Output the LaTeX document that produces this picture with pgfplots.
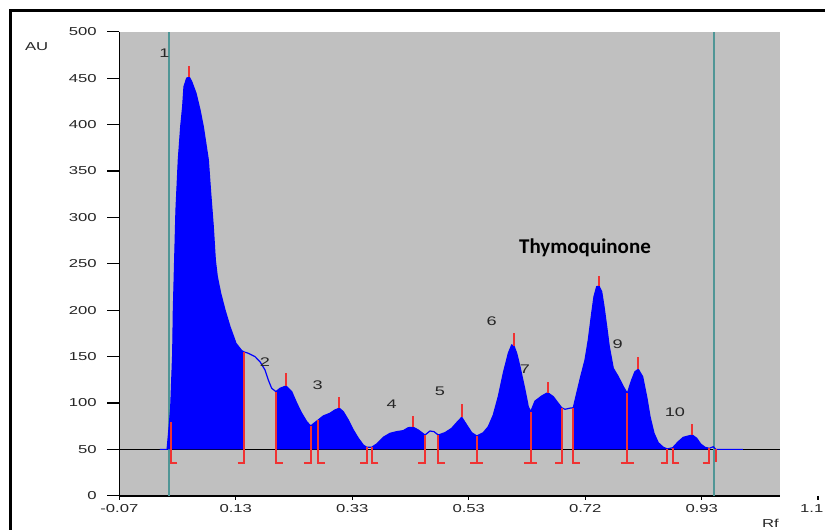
\documentclass[border=0pt]{standalone}
\usepackage{fontspec}
\setmainfont{Liberation Sans}
\newfontfamily\axisfont[FakeStretch=1.45]{Liberation Sans}
\newfontfamily\tqfont{Carlito}
\usepackage{pgfplots}
\pgfplotsset{compat=1.18}
\definecolor{bgray}{RGB}{192,192,192}
\definecolor{pblue}{RGB}{0,0,255}
\definecolor{pred}{RGB}{240,50,50}
\definecolor{pteal}{RGB}{80,150,150}
\begin{document}
\begin{tikzpicture}
\begin{axis}[
  scale only axis, width=660.7pt, height=464.1pt,
  xmin=-0.07, xmax=1.036, ymin=0, ymax=500,
  axis x line*=bottom, axis y line*=left,
  axis line style={-, black, line width=1.5pt},
  axis background/.style={fill=bgray},
  xtick={-0.07,0.125,0.32,0.515,0.71,0.905},
  xticklabels={-0.07,0.13,0.33,0.53,0.72,0.93},
  ytick={0,50,...,500},
  tick align=outside,
  major tick length=12pt,
  xtick style={draw=none},
  ytick style={draw=none},
  tick label style={font=\fontsize{11.5}{13}\axisfont, text=black!85},
  yticklabel style={xshift=-7pt},
  xticklabel style={yshift=7pt},
  /pgf/number format/assume math mode=true,
  clip=false,
  unbounded coords=jump,
]
% baseline
\addplot[black, line width=1.2pt] coordinates {(-0.07,50) (1.036,50)};
% teal limit lines
\addplot[pteal, line width=1.8pt] coordinates {(0.0137,0) (0.0137,500)};
\addplot[pteal, line width=1.8pt] coordinates {(0.9255,0) (0.9255,500)};
% filled segments
\addplot[fill=pblue, draw=none] coordinates {(0.0100,50) (0.0120,64) (0.0160,94) (0.0194,153) (0.0205,200) (0.0249,308) (0.0288,361.9) (0.0328,397.7) (0.0361,419.3) (0.0383,440.8) (0.0428,449.9) (0.0472,451) (0.0512,446.2) (0.0584,433.7) (0.0651,415.7) (0.0706,397.7) (0.0790,361.9) (0.0830,326) (0.0873,290) (0.0907,254.1) (0.0940,236.1) (0.0997,218.2) (0.1069,200.2) (0.1153,182.2) (0.1253,164.3) (0.1349,156.4) (0.1392,154.9) (0.1392,50)} -- cycle;
\addplot[fill=pblue, draw=none] coordinates {(0.1923,50) (0.1923,112.2) (0.1990,115.8) (0.2090,118.3) (0.2186,112.2) (0.2270,99.7) (0.2353,88.9) (0.2437,79.9) (0.2504,75.2) (0.2559,78.1) (0.2631,81.7) (0.2715,86) (0.2827,88.9) (0.2911,92.5) (0.2983,94.3) (0.3050,90.6) (0.3133,81.7) (0.3217,70.9) (0.3301,62) (0.3384,54.7) (0.3441,52.3) (0.3441,50)} -- cycle;
\addplot[fill=pblue, draw=none] coordinates {(0.3525,50) (0.3525,52.3) (0.3609,55.8) (0.3719,63) (0.3831,67.3) (0.3943,69.1) (0.4054,70.2) (0.4138,73.4) (0.4221,73.8) (0.4305,70.9) (0.4417,65.5) (0.4417,50)} -- cycle;
\addplot[fill=pblue, draw=none] coordinates {(0.4640,50) (0.4640,65.5) (0.4752,68) (0.4864,72.7) (0.4948,78.8) (0.5032,84.6) (0.5115,76.3) (0.5199,68) (0.5283,64.4) (0.5393,68) (0.5477,74.5) (0.5561,87.1) (0.5644,106.8) (0.5728,132) (0.5812,153.6) (0.5869,162.5) (0.5907,161.4) (0.5952,153.6) (0.6007,139.1) (0.6091,114) (0.6146,96) (0.6187,90.6) (0.6258,102) (0.6371,107.5) (0.6471,111.1) (0.6565,106.8) (0.6648,99.7) (0.6705,94.9) (0.6705,50)} -- cycle;
\addplot[fill=pblue, draw=none] coordinates {(0.6900,50) (0.6900,94.9) (0.6957,110.4) (0.7024,128.3) (0.7096,146.3) (0.7151,167.9) (0.7208,196.7) (0.7246,214.5) (0.7291,225.3) (0.7330,226) (0.7375,219.9) (0.7414,203.8) (0.7459,182.2) (0.7502,160.7) (0.7569,137.4) (0.7653,128.3) (0.7737,117.6) (0.7804,110.4) (0.7877,124.8) (0.7932,133.7) (0.7988,136.3) (0.8061,128.3) (0.8128,106.8) (0.8184,85.2) (0.8251,67.3) (0.8322,57.2) (0.8406,52.3) (0.8473,50.5) (0.8473,50)} -- cycle;
\addplot[fill=pblue, draw=none] coordinates {(0.8564,50) (0.8564,51.8) (0.8657,58.3) (0.8741,63) (0.8825,64.4) (0.8892,65.5) (0.8965,62) (0.9032,55.8) (0.9104,52.3) (0.9176,51.1) (0.9176,50)} -- cycle;
% densitogram trace
\addplot[pblue, line width=1.2pt] coordinates {(-0.0019,50) (0.0100,50) (0.0120,64) (0.0160,94) (0.0194,153) (0.0205,200) (0.0249,308) (0.0288,361.9) (0.0328,397.7) (0.0361,419.3) (0.0383,440.8) (0.0428,449.9) (0.0472,451) (0.0512,446.2) (0.0584,433.7) (0.0651,415.7) (0.0706,397.7) (0.0790,361.9) (0.0830,326) (0.0873,290) (0.0907,254.1) (0.0940,236.1) (0.0997,218.2) (0.1069,200.2) (0.1153,182.2) (0.1253,164.3) (0.1349,156.4) (0.1392,154.9) (0.1459,153.6) (0.1572,149.9) (0.1655,144.5) (0.1739,135.6) (0.1794,124.8) (0.1851,115.8) (0.1923,112.2) (0.1990,115.8) (0.2090,118.3) (0.2186,112.2) (0.2270,99.7) (0.2353,88.9) (0.2437,79.9) (0.2504,75.2) (0.2559,78.1) (0.2631,81.7) (0.2715,86) (0.2827,88.9) (0.2911,92.5) (0.2983,94.3) (0.3050,90.6) (0.3133,81.7) (0.3217,70.9) (0.3301,62) (0.3384,54.7) (0.3441,52.3) (0.3525,52.3) (0.3609,55.8) (0.3719,63) (0.3831,67.3) (0.3943,69.1) (0.4054,70.2) (0.4138,73.4) (0.4221,73.8) (0.4305,70.9) (0.4417,65.5) (0.4501,69.8) (0.4568,69.1) (0.4640,65.5) (0.4752,68) (0.4864,72.7) (0.4948,78.8) (0.5032,84.6) (0.5115,76.3) (0.5199,68) (0.5283,64.4) (0.5393,68) (0.5477,74.5) (0.5561,87.1) (0.5644,106.8) (0.5728,132) (0.5812,153.6) (0.5869,162.5) (0.5907,161.4) (0.5952,153.6) (0.6007,139.1) (0.6091,114) (0.6146,96) (0.6187,90.6) (0.6258,102) (0.6371,107.5) (0.6471,111.1) (0.6565,106.8) (0.6648,99.7) (0.6705,94.9) (0.6761,93.2) (0.6833,94.3) (0.6900,94.9) (0.6957,110.4) (0.7024,128.3) (0.7096,146.3) (0.7151,167.9) (0.7208,196.7) (0.7246,214.5) (0.7291,225.3) (0.7330,226) (0.7375,219.9) (0.7414,203.8) (0.7459,182.2) (0.7502,160.7) (0.7569,137.4) (0.7653,128.3) (0.7737,117.6) (0.7804,110.4) (0.7877,124.8) (0.7932,133.7) (0.7988,136.3) (0.8061,128.3) (0.8128,106.8) (0.8184,85.2) (0.8251,67.3) (0.8322,57.2) (0.8406,52.3) (0.8473,50.5) (0.8564,51.8) (0.8657,58.3) (0.8741,63) (0.8825,64.4) (0.8892,65.5) (0.8965,62) (0.9032,55.8) (0.9104,52.3) (0.9176,51.1) (0.9243,52.9) (0.9288,50) (0.9740,50)};
% peak boundaries
\addplot[pred, line width=2.2pt] coordinates {
 (0.0270,35.3) (0.0160,35.3) (0.0160,80) (0,nan)
 (0.1282,35.3) (0.1392,35.3) (0.1392,154.9) (0,nan)
 (0.2033,35.3) (0.1923,35.3) (0.1923,112.2) (0,nan)
 (0.2394,35.3) (0.2504,35.3) (0.2504,75.2) (0,nan)
 (0.2741,35.3) (0.2631,35.3) (0.2631,81.7) (0,nan)
 (0.3331,35.3) (0.3441,35.3) (0.3441,52.3) (0,nan)
 (0.3635,35.3) (0.3525,35.3) (0.3525,52.3) (0,nan)
 (0.4307,35.3) (0.4417,35.3) (0.4417,65.5) (0,nan)
 (0.4750,35.3) (0.4640,35.3) (0.4640,65.5) (0,nan)
 (0.5173,35.3) (0.5393,35.3) (0,nan) (0.5283,35.3) (0.5283,64.4) (0,nan)
 (0.6077,35.3) (0.6297,35.3) (0,nan) (0.6187,35.3) (0.6187,90.6) (0,nan)
 (0.6595,35.3) (0.6705,35.3) (0.6705,94.9) (0,nan)
 (0.7010,35.3) (0.6900,35.3) (0.6900,94.9) (0,nan)
 (0.7694,35.3) (0.7914,35.3) (0,nan) (0.7804,35.3) (0.7804,110.4) (0,nan)
 (0.8363,35.3) (0.8473,35.3) (0.8473,50.5) (0,nan)
 (0.8674,35.3) (0.8564,35.3) (0.8564,51.8) (0,nan)
 (0.9066,35.3) (0.9176,35.3) (0.9176,51.1) (0,nan)
 (0.9288,36.4) (0.9288,50.4)
};
% peak maxima markers
\addplot[pred, line width=2.2pt] coordinates {
 (0.0472,451) (0.0472,463) (0,nan)
 (0.2090,118.3) (0.2090,132) (0,nan)
 (0.2983,94.3) (0.2983,106) (0,nan)
 (0.4221,73.8) (0.4221,86) (0,nan)
 (0.5032,84.6) (0.5032,98.6) (0,nan)
 (0.5907,161.4) (0.5907,175) (0,nan)
 (0.6471,111.1) (0.6471,122.3) (0,nan)
 (0.7330,226) (0.7330,237) (0,nan)
 (0.7988,136.3) (0.7988,150) (0,nan)
 (0.8892,65.5) (0.8892,77.4)
};
% axis tick marks
\foreach \t in {-0.07,0.125,0.32,0.515,0.71,0.905}{
  \edef\temp{\noexpand\draw[black, line width=1.2pt] (axis cs:\t,0) -- ++(0pt,-4.5pt);}
  \temp
}
\foreach \t in {0,50,...,500}{
  \edef\temp{\noexpand\draw[black, line width=1.2pt] (axis cs:-0.07,\t) -- ++(-12pt,0pt);}
  \temp
}
% peak labels
\tikzset{pk/.style={font=\fontsize{12.5}{14}\axisfont, text=black!85, inner sep=0pt}}
\node[pk] at (axis cs:0.0057,476.6) {1};
\node[pk] at (axis cs:0.1739,144.2) {2};
\node[pk] at (axis cs:0.2621,119.4) {3};
\node[pk] at (axis cs:0.3860,99.2) {4};
\node[pk] at (axis cs:0.4668,112.2) {5};
\node[pk] at (axis cs:0.5534,188.4) {6};
\node[pk] at (axis cs:0.6091,136.6) {7};
\node[pk] at (axis cs:0.7643,162.8) {9};
\node[pk] at (axis cs:0.8602,90.6) {10};
\node[font=\fontsize{21}{24}\tqfont\bfseries, inner sep=0pt] at (axis cs:0.7095,266.7) {Thymoquinone};
\end{axis}
% axis titles and cut-off last tick
\node[font=\fontsize{11.5}{13}\axisfont, text=black!85, inner sep=0pt] at (-82.6pt,448.8pt) {AU};
\node[font=\fontsize{11.5}{13}\axisfont, text=black!85, inner sep=0pt] at (651.2pt,-27.7pt) {Rf};
\node[font=\fontsize{11.5}{13}\axisfont, text=black!85, inner sep=0pt, anchor=west] at (680.7pt,-13.2pt) {1.1};
\draw[black, line width=1.2pt] (698.7pt,0pt) -- (698.7pt,-4.5pt);
% outer frame
\draw[black, line width=2.5pt] (-108.8pt,-40pt) -- (-108.8pt,485.3pt) -- (720pt,485.3pt);
\pgfresetboundingbox
\useasboundingbox (-119.3pt,-34.2pt) rectangle (705.7pt,495.8pt);
\end{tikzpicture}
\end{document}
